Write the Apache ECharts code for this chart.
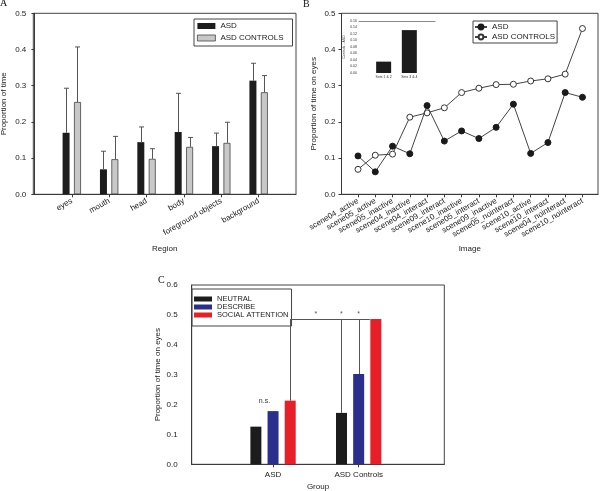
<!DOCTYPE html>
<html>
<head>
<meta charset="utf-8">
<script src="https://cdn.jsdelivr.net/npm/echarts@6/dist/echarts.min.js"></script>
<style>
html, body { margin: 0; padding: 0; background: #fff; }
#chart { width: 600px; height: 491px; }
</style>
</head>
<body>
<div id="chart"></div>
<script>
// ---- panel A: proportion of time per region ----
const regions = ['eyes', 'mouth', 'head', 'body', 'foreground objects', 'background']
const asdRegion = [0.170, 0.069, 0.144, 0.172, 0.133, 0.314]
const asdRegionErr = [0.293, 0.119, 0.186, 0.279, 0.169, 0.362]
const ctrlRegion = [0.255, 0.097, 0.098, 0.131, 0.142, 0.282]
const ctrlRegionErr = [0.407, 0.160, 0.126, 0.157, 0.199, 0.328]

// ---- panel B: time on eyes per image ----
const images = ['scene04_active', 'scene05_active', 'scene05_inactive', 'scene04_inactive',
  'scene04_interact', 'scene09_interact', 'scene10_inactive', 'scene05_interact',
  'scene09_inactive', 'scene05_nointeract', 'scene10_active', 'scene10_interact',
  'scene04_nointeract', 'scene10_nointeract']
const asdEyes = [0.106, 0.062, 0.133, 0.112, 0.245, 0.147, 0.175, 0.154, 0.185, 0.249, 0.113, 0.143, 0.281, 0.268]
const ctrlEyes = [0.069, 0.108, 0.111, 0.213, 0.225, 0.239, 0.281, 0.293, 0.303, 0.304, 0.313, 0.319, 0.332, 0.458]
// inset
const insetSets = ['Sets 1 & 2', 'Sets 3 & 4']
const insetDiff = [0.035, 0.132]

// ---- panel C: time on eyes per group / condition ----
const groups = ['ASD', 'ASD Controls']
const neutral = [0.126, 0.172]
const describe = [0.178, 0.302]
const social = [0.213, 0.486]
const sigLevel = 0.486
// [group, bar (0 neutral, 1 describe, 2 social), value at bar top]
const sigDrops = [[1, 2, 0.213], [2, 0, 0.172], [2, 1, 0.302]]
// [group, bar] positions of the stars
const sigStars = [[1.5, 1], [2, 0], [2, 1]]
const nsMark = [[1, 0.5, 0.21]]

const font = 'Liberation Sans, Arial, sans-serif'
const axisColor = '#3a3a3a'
const textColor = '#222'
const barStepC = 17.2

let chartDom = document.getElementById('chart')
let myChart = echarts.init(chartDom)

function lineAxis (extra) {
  return Object.assign({
    axisLine: { show: true, lineStyle: { color: axisColor, width: 1 } },
    axisTick: { show: true, length: 3, lineStyle: { color: axisColor } },
    splitLine: { show: false },
    axisLabel: { color: textColor, fontSize: 8, fontFamily: font },
    nameTextStyle: { color: textColor, fontSize: 8, fontFamily: font }
  }, extra)
}

function errorSeries (vals, errs, offset) {
  return {
    type: 'custom',
    xAxisIndex: 0,
    yAxisIndex: 0,
    z: 5,
    silent: true,
    data: vals.map((v, i) => [i + 1, v, errs[i]]),
    renderItem (params, api) {
      const base = api.coord([api.value(0), api.value(1)])
      const tip = api.coord([api.value(0), api.value(2)])
      const x = Math.round(base[0] + offset) + 0.5
      const style = { stroke: '#555', lineWidth: 1 }
      return {
        type: 'group',
        children: [
          { type: 'line', shape: { x1: x, y1: base[1], x2: x, y2: tip[1] }, style },
          { type: 'line', shape: { x1: x - 2.5, y1: tip[1], x2: x + 2.5, y2: tip[1] }, style }
        ]
      }
    }
  }
}

function cX (api, g, b) {
  return api.coord([g, 0])[0] + (b - 1) * barStepC
}

let option = {
  animation: false,
  title: [
    { text: 'A', left: 0, top: -2, padding: 0, textStyle: { fontFamily: 'Liberation Serif, serif', fontWeight: 'normal', fontSize: 10, color: '#111' } },
    { text: 'B', left: 303, top: -1, padding: 0, textStyle: { fontFamily: 'Liberation Serif, serif', fontWeight: 'normal', fontSize: 10, color: '#111' } },
    { text: 'C', left: 158, top: 275, padding: 0, textStyle: { fontFamily: 'Liberation Serif, serif', fontWeight: 'normal', fontSize: 10, color: '#111' } }
  ],
  legend: [
    {
      left: 194, top: 19, orient: 'vertical',
      padding: [3, 9, 4, 3], itemGap: 4, itemWidth: 18, itemHeight: 6,
      borderColor: '#444', borderWidth: 1, selectedMode: false,
      textStyle: { fontSize: 8, fontFamily: font, color: textColor, lineHeight: 8 },
      data: [
        { name: 'ASD', icon: 'rect', itemStyle: { color: '#1c1c1c', borderWidth: 0 } },
        { name: 'ASD CONTROLS', icon: 'rect', itemStyle: { color: '#c8c8c8', borderColor: '#444', borderWidth: 0.8 } }
      ]
    },
    {
      left: 473, top: 21, orient: 'vertical',
      padding: [2, 2, 2, 1], itemGap: 2, itemWidth: 12, itemHeight: 6,
      borderColor: '#444', borderWidth: 1, selectedMode: false,
      textStyle: { fontSize: 8, fontFamily: font, color: textColor, lineHeight: 8 },
      data: ['ASD', 'ASD CONTROLS']
    },
    {
      left: 192, top: 289, orient: 'vertical',
      padding: [6, 3, 7, 2], itemGap: 0, itemWidth: 18, itemHeight: 5,
      borderColor: '#444', borderWidth: 1, selectedMode: false,
      textStyle: { fontSize: 7.5, fontFamily: font, color: textColor, lineHeight: 7.7 },
      data: [
        { name: 'NEUTRAL', icon: 'rect' },
        { name: 'DESCRIBE', icon: 'rect' },
        { name: 'SOCIAL ATTENTION', icon: 'rect' }
      ]
    }
  ],
  grid: [
    { left: 33.3, top: 13.3, width: 262.7, height: 181, show: true, borderColor: '#444', borderWidth: 1, outerBoundsMode: 'none' },
    { left: 341.5, top: 13.3, width: 256.5, height: 181, show: true, borderColor: '#444', borderWidth: 1, outerBoundsMode: 'none' },
    { left: 359, top: 21, width: 76, height: 52, outerBoundsMode: 'none' },
    { left: 191.7, top: 285, width: 252.6, height: 179.3, show: true, borderColor: '#444', borderWidth: 1, outerBoundsMode: 'none' }
  ],
  xAxis: [
    lineAxis({
      gridIndex: 0, type: 'value', min: -0.03, max: 7,
      name: 'Region', nameLocation: 'middle', nameGap: 50,
      axisTick: { show: true, length: 3, lineStyle: { color: axisColor }, customValues: [1, 2, 3, 4, 5, 6] },
      axisLabel: { color: textColor, fontSize: 8, fontFamily: font, rotate: 30, margin: 6,
        customValues: [1, 2, 3, 4, 5, 6], formatter: v => regions[v - 1] || '' }
    }),
    lineAxis({
      gridIndex: 1, type: 'value', min: 0.044, max: 14.9,
      name: 'Image', nameLocation: 'middle', nameGap: 50,
      axisTick: { show: true, length: 3, lineStyle: { color: axisColor }, customValues: images.map((_, i) => i + 1) },
      axisLabel: { color: textColor, fontSize: 8, fontFamily: font, rotate: 30, margin: 6,
        customValues: images.map((_, i) => i + 1), formatter: v => images[v - 1] || '' }
    }),
    {
      gridIndex: 2, type: 'value', min: 0.04, max: 3,
      axisLine: { show: false }, axisTick: { show: false }, splitLine: { show: false },
      axisLabel: { color: '#333', fontSize: 3.5, fontFamily: font, margin: 2,
        customValues: [1, 2], formatter: v => insetSets[v - 1] || '' }
    },
    lineAxis({
      gridIndex: 3, type: 'value', min: 0.05, max: 3,
      name: 'Group', nameLocation: 'middle', nameGap: 18,
      axisTick: { show: true, length: 3, lineStyle: { color: axisColor }, customValues: [1, 2] },
      axisLabel: { color: textColor, fontSize: 8, fontFamily: font, margin: 6,
        customValues: [1, 2], formatter: v => groups[v - 1] || '' }
    }),
    {
      gridIndex: 2, type: 'value', position: 'top', min: 0.04, max: 3,
      axisLine: { show: true, lineStyle: { color: '#888', width: 1 } },
      axisTick: { show: false }, axisLabel: { show: false }, splitLine: { show: false }
    }
  ],
  yAxis: [
    lineAxis({
      gridIndex: 0, type: 'value', min: 0, max: 0.5, interval: 0.1,
      name: 'Proportion of time', nameLocation: 'middle', nameGap: 26,
      axisLabel: { color: textColor, fontSize: 8, fontFamily: font, margin: 7, formatter: v => v.toFixed(1) }
    }),
    lineAxis({
      gridIndex: 1, type: 'value', min: 0, max: 0.5, interval: 0.1,
      name: 'Proportion of time on eyes', nameLocation: 'middle', nameGap: 24,
      axisLabel: { color: textColor, fontSize: 8, fontFamily: font, margin: 6, formatter: v => v.toFixed(1) }
    }),
    {
      gridIndex: 2, type: 'value', min: 0, max: 0.16, interval: 0.02,
      name: 'Controls - ASD', nameLocation: 'middle', nameGap: 11,
      nameTextStyle: { color: '#333', fontSize: 3.5, fontFamily: font },
      axisLine: { show: false }, axisTick: { show: false }, splitLine: { show: false },
      axisLabel: { color: '#333', fontSize: 3.5, fontFamily: font, margin: 2, formatter: v => v.toFixed(2) }
    },
    lineAxis({
      gridIndex: 3, type: 'value', min: 0, max: 0.6, interval: 0.1,
      name: 'Proportion of time on eyes', nameLocation: 'middle', nameGap: 30,
      axisTick: { show: false },
      axisLabel: { color: textColor, fontSize: 8, fontFamily: font, margin: 14, formatter: v => v.toFixed(1) }
    })
  ],
  series: [
    // B lines first so their legend icons are line+symbol
    {
      name: 'ASD', type: 'line', xAxisIndex: 1, yAxisIndex: 1,
      data: asdEyes.map((v, i) => [i + 1, v]),
      symbol: 'circle', symbolSize: 6,
      lineStyle: { color: '#444', width: 1 },
      itemStyle: { color: '#1a1a1a', borderColor: '#1a1a1a', borderWidth: 1 },
      z: 4
    },
    {
      name: 'ASD CONTROLS', type: 'line', xAxisIndex: 1, yAxisIndex: 1,
      data: ctrlEyes.map((v, i) => [i + 1, v]),
      symbol: 'circle', symbolSize: 6,
      lineStyle: { color: '#444', width: 1 },
      itemStyle: { color: '#fff', borderColor: '#333', borderWidth: 1 },
      z: 3
    },
    // inset
    {
      type: 'bar', xAxisIndex: 2, yAxisIndex: 2, barWidth: 15,
      data: insetDiff.map((v, i) => [i + 1, v]),
      itemStyle: { color: '#1c1c1c' }, silent: true
    },
    // A bars
    {
      name: 'ASD', type: 'bar', xAxisIndex: 0, yAxisIndex: 0,
      barWidth: 7, barGap: '63%',
      data: asdRegion.map((v, i) => [i + 1, v]),
      itemStyle: { color: '#1c1c1c' }
    },
    {
      name: 'ASD CONTROLS', type: 'bar', xAxisIndex: 0, yAxisIndex: 0,
      barWidth: 7, barGap: '63%',
      data: ctrlRegion.map((v, i) => [i + 1, v]),
      itemStyle: { color: '#c8c8c8', borderColor: '#444', borderWidth: 0.8 }
    },
    errorSeries(asdRegion, asdRegionErr, -5.7),
    errorSeries(ctrlRegion, ctrlRegionErr, 5.7),
    // C bars
    {
      name: 'NEUTRAL', type: 'bar', xAxisIndex: 3, yAxisIndex: 3,
      barWidth: 11, barGap: '56%',
      data: neutral.map((v, i) => [i + 1, v]),
      itemStyle: { color: '#1c1c1c' }
    },
    {
      name: 'DESCRIBE', type: 'bar', xAxisIndex: 3, yAxisIndex: 3,
      barWidth: 11, barGap: '56%',
      data: describe.map((v, i) => [i + 1, v]),
      itemStyle: { color: '#2a2f8e' }
    },
    {
      name: 'SOCIAL ATTENTION', type: 'bar', xAxisIndex: 3, yAxisIndex: 3,
      barWidth: 11, barGap: '56%',
      data: social.map((v, i) => [i + 1, v]),
      itemStyle: { color: '#e61f28' }
    },
    // C significance drops
    {
      type: 'custom', xAxisIndex: 3, yAxisIndex: 3, silent: true, z: 6,
      data: sigDrops,
      renderItem (params, api) {
        const x = Math.round(cX(api, api.value(0), api.value(1))) + 0.5
        const y1 = api.coord([api.value(0), api.value(2)])[1]
        const y2 = api.coord([api.value(0), sigLevel])[1]
        return { type: 'line', shape: { x1: x, y1, x2: x, y2 }, style: { stroke: '#555', lineWidth: 1 } }
      }
    },
    // C bracket horizontal
    {
      type: 'custom', xAxisIndex: 3, yAxisIndex: 3, silent: true, z: 6,
      data: [[sigDrops[0][0], sigDrops[0][1], 2, 2, sigLevel]],
      renderItem (params, api) {
        const x1 = Math.round(cX(api, api.value(0), api.value(1))) + 0.5
        const x2 = cX(api, api.value(2), api.value(3)) - 6
        const y = Math.round(api.coord([1, api.value(4)])[1]) + 0.5
        return { type: 'line', shape: { x1, y1: y, x2, y2: y }, style: { stroke: '#555', lineWidth: 1 } }
      }
    },
    // C stars
    {
      type: 'custom', xAxisIndex: 3, yAxisIndex: 3, silent: true, z: 6,
      data: sigStars,
      renderItem (params, api) {
        const x = cX(api, api.value(0), api.value(1))
        const y = api.coord([1, sigLevel])[1]
        return { type: 'text', x, y: y - 2, style: { text: '*', fill: '#555', fontSize: 7, fontFamily: font, align: 'center', verticalAlign: 'bottom' } }
      }
    },
    // C n.s.
    {
      type: 'custom', xAxisIndex: 3, yAxisIndex: 3, silent: true, z: 6,
      data: nsMark,
      renderItem (params, api) {
        const x = cX(api, api.value(0), api.value(1))
        const y = api.coord([1, api.value(2)])[1]
        return { type: 'text', x, y, style: { text: 'n.s.', fill: '#333', fontSize: 7, fontFamily: font, align: 'center', verticalAlign: 'middle' } }
      }
    }
  ]
}
option && myChart.setOption(option)
</script>
</body>
</html>
